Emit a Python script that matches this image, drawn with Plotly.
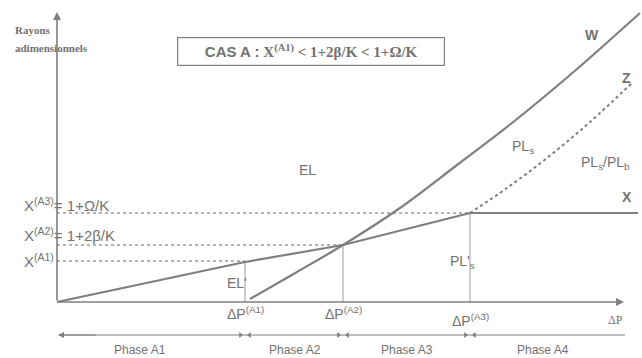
import plotly.graph_objects as go

# ---- data (abstract, dimensionless units) ----
dp_names = ["ΔP<sup>(A1)</sup>", "ΔP<sup>(A2)</sup>", "ΔP<sup>(A3)</sup>"]
dp_vals = [1.88, 2.86, 4.13]
level_names = ["X<sup>(A1)</sup>", "X<sup>(A2)</sup>= 1+2β/K", "X<sup>(A3)</sup>= 1+Ω/K"]
level_vals = [0.41, 0.57, 0.89]

x_curve_x = [0.0, 1.88, 2.86, 4.13, 5.81]
x_curve_y = [0.0, 0.40, 0.57, 0.89, 0.89]

w_curve_x = [1.93, 2.40, 2.86, 3.43, 4.00, 4.60, 5.20, 5.83]
w_curve_y = [0.03, 0.30, 0.57, 0.94, 1.37, 1.83, 2.33, 2.89]

z_curve_x = [4.13, 4.50, 4.90, 5.33, 5.76]
z_curve_y = [0.89, 1.14, 1.44, 1.80, 2.20]

phase_names = ["Phase A1", "Phase A2", "Phase A3", "Phase A4"]
phase_x = [0.83, 2.38, 3.50, 4.86]

region_labels = ["EL", "EL'", "PL<sub>s</sub>", "PL<sub>s</sub>/PL<sub>b</sub>", "PL'<sub>s</sub>"]
region_x = [2.50, 1.80, 4.66, 5.48, 4.05]
region_y = [1.32, 0.19, 1.55, 1.39, 0.40]

curve_labels = ["W", "Z", "X"]
curve_lx = [5.35, 5.69, 5.70]
curve_ly = [2.67, 2.24, 1.05]

LINE = "#7f7f7f"
TXT = "#727272"
SANS = "Liberation Sans, Arial, sans-serif"
SERIF = "Liberation Serif, Times New Roman, serif"

fig = go.Figure()

# reference levels (dotted horizontal) and verticals
for v, d in zip(level_vals, dp_vals):
    fig.add_trace(go.Scatter(x=[0, d], y=[v, v], mode="lines",
                             line=dict(color="#9a9a9a", width=1.3, dash="dot"),
                             hoverinfo="skip", showlegend=False))
    fig.add_trace(go.Scatter(x=[d, d], y=[0, v], mode="lines",
                             line=dict(color="#9a9a9a", width=1),
                             hoverinfo="skip", showlegend=False))

# X curve
fig.add_trace(go.Scatter(x=x_curve_x, y=x_curve_y, mode="lines",
                         line=dict(color=LINE, width=2.2), showlegend=False))
# W curve
fig.add_trace(go.Scatter(x=w_curve_x, y=w_curve_y, mode="lines",
                         line=dict(color=LINE, width=2.2, shape="spline", smoothing=1.0),
                         showlegend=False))
# Z curve
fig.add_trace(go.Scatter(x=z_curve_x, y=z_curve_y, mode="lines",
                         line=dict(color=LINE, width=2, dash="dot", shape="spline", smoothing=1.0),
                         showlegend=False))

# phase line
phase_y = -0.33
fig.add_trace(go.Scatter(x=[0.02, 5.68], y=[phase_y, phase_y], mode="lines",
                         line=dict(color=LINE, width=1.2), showlegend=False, hoverinfo="skip"))
fig.add_trace(go.Scatter(x=[d - 0.045 for d in dp_vals], y=[phase_y] * 3, mode="markers",
                         marker=dict(symbol="triangle-right", size=5, color=LINE),
                         showlegend=False, hoverinfo="skip"))
fig.add_trace(go.Scatter(x=[d + 0.045 for d in dp_vals], y=[phase_y] * 3, mode="markers",
                         marker=dict(symbol="triangle-left", size=5, color=LINE),
                         showlegend=False, hoverinfo="skip"))

ann = []
# axes with arrows
ann.append(dict(x=5.67, y=0, ax=0, ay=0, axref="x", ayref="y", xref="x", yref="y",
                showarrow=True, arrowhead=2, arrowsize=1, arrowwidth=1.6, arrowcolor=LINE, text=""))
ann.append(dict(x=0, y=2.90, ax=0, ay=0, axref="x", ayref="y", xref="x", yref="y",
                showarrow=True, arrowhead=2, arrowsize=1, arrowwidth=1.6, arrowcolor=LINE, text=""))
ann.append(dict(x=0.01, y=phase_y, ax=0.4, ay=phase_y, axref="x", ayref="y", xref="x", yref="y",
                showarrow=True, arrowhead=2, arrowsize=1, arrowwidth=1.2, arrowcolor=LINE, text=""))

# y axis title
ann.append(dict(x=-0.44, y=2.72, xref="x", yref="y", xanchor="left", yanchor="middle",
                text="<b>Rayons</b>", showarrow=False, font=dict(family=SERIF, size=11, color=TXT)))
ann.append(dict(x=-0.44, y=2.54, xref="x", yref="y", xanchor="left", yanchor="middle",
                text="<b>adimensionnels</b>", showarrow=False, font=dict(family=SERIF, size=11, color=TXT)))

# level labels
level_label_y = [0.42, 0.68, 0.98]
for name, ly in zip(level_names, level_label_y):
    ann.append(dict(x=-0.35, y=ly, xref="x", yref="y", xanchor="left", yanchor="middle",
                    text=name, showarrow=False, font=dict(family=SANS, size=15, color=TXT)))

# ΔP labels
dp_label_y = [-0.11, -0.11, -0.18]
for name, d, ly in zip(dp_names, dp_vals, dp_label_y):
    ann.append(dict(x=d, y=ly, xref="x", yref="y", xanchor="center", yanchor="middle",
                    text=name, showarrow=False, font=dict(family=SANS, size=14, color=TXT)))
ann.append(dict(x=5.58, y=-0.18, xref="x", yref="y", xanchor="center", yanchor="middle",
                text="ΔP", showarrow=False, font=dict(family=SERIF, size=12, color=TXT)))

# phase labels
for name, px in zip(phase_names, phase_x):
    ann.append(dict(x=px, y=-0.48, xref="x", yref="y", xanchor="center", yanchor="middle",
                    text=name, showarrow=False, font=dict(family=SANS, size=12, color=TXT)))

# region labels
for name, rx, ry in zip(region_labels, region_x, region_y):
    ann.append(dict(x=rx, y=ry, xref="x", yref="y", xanchor="center", yanchor="middle",
                    text=name, showarrow=False, font=dict(family=SANS, size=14, color=TXT)))

# curve labels
for name, cx, cy in zip(curve_labels, curve_lx, curve_ly):
    ann.append(dict(x=cx, y=cy, xref="x", yref="y", xanchor="center", yanchor="middle",
                    text="<b>" + name + "</b>", showarrow=False, font=dict(family=SANS, size=14, color=TXT)))

# title box
ann.append(dict(x=2.54, y=2.51, xref="x", yref="y", xanchor="center", yanchor="middle",
                text="<b><span style='font-family:Liberation Sans, Arial, sans-serif'>CAS A :</span>"
                     " X<sup>(A1)</sup> &lt; 1+2β/K &lt; 1+Ω/K</b>", showarrow=False,
                font=dict(family=SERIF, size=15, color=TXT),
                bordercolor=LINE, borderwidth=1.2, borderpad=4, bgcolor="white", width=258))

fig.update_layout(
    width=642, height=358, autosize=False,
    margin=dict(l=0, r=0, t=0, b=0),
    paper_bgcolor="white", plot_bgcolor="white",
    xaxis=dict(range=[-0.57, 5.85], visible=False, fixedrange=True),
    yaxis=dict(range=[-0.56, 3.02], visible=False, fixedrange=True),
    annotations=ann,
    showlegend=False,
)

fig.write_html("out.html")
